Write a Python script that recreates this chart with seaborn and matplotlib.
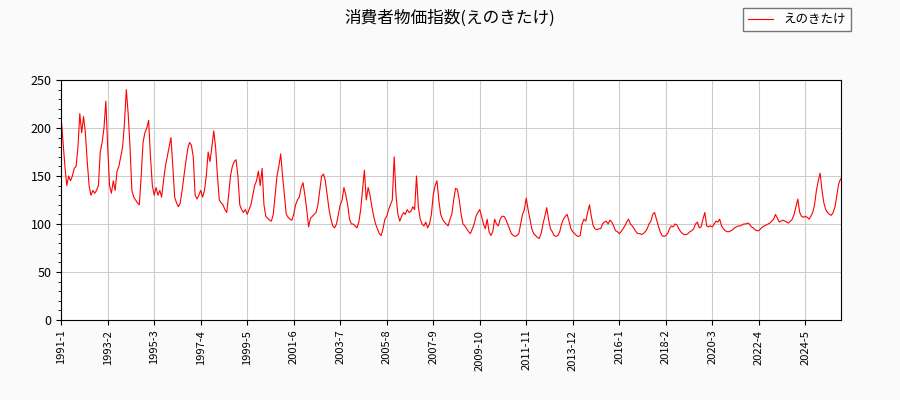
import seaborn as sns
import matplotlib.pyplot as plt
import pandas as pd
import numpy as np

# monthly index values, 1991-1 .. 2025-12
y1991 = [210, 185, 160, 140, 150, 145, 150, 158, 160, 180, 215, 195]
y1992 = [212, 195, 165, 140, 130, 135, 132, 135, 140, 175, 185, 200]
y1993 = [228, 180, 140, 132, 145, 135, 155, 160, 170, 180, 205, 240]
y1994 = [215, 180, 135, 128, 125, 122, 120, 150, 185, 195, 200, 208]
y1995 = [170, 140, 130, 138, 130, 135, 128, 145, 160, 170, 180, 190]
y1996 = [160, 128, 122, 118, 122, 135, 150, 165, 178, 185, 182, 170]
y1997 = [130, 126, 130, 135, 128, 135, 150, 175, 165, 180, 197, 180]
y1998 = [150, 125, 122, 120, 115, 112, 130, 150, 160, 165, 167, 150]
y1999 = [120, 115, 112, 115, 110, 115, 120, 130, 140, 145, 155, 140]
y2000 = [158, 120, 108, 106, 104, 103, 110, 130, 150, 160, 173, 150]
y2001 = [130, 110, 107, 105, 104, 110, 120, 125, 128, 138, 143, 130]
y2002 = [115, 97, 106, 108, 110, 112, 120, 135, 150, 152, 145, 130]
y2003 = [115, 105, 98, 96, 100, 110, 120, 125, 138, 130, 120, 105]
y2004 = [100, 100, 98, 96, 102, 115, 135, 156, 125, 138, 130, 118]
y2005 = [108, 100, 95, 90, 88, 95, 105, 108, 115, 120, 125, 170]
y2006 = [130, 110, 103, 108, 112, 110, 115, 112, 113, 118, 115, 150]
y2007 = [118, 105, 100, 98, 102, 96, 100, 110, 130, 140, 145, 125]
y2008 = [110, 105, 102, 100, 98, 105, 110, 125, 137, 136, 125, 110]
y2009 = [100, 98, 95, 92, 90, 95, 100, 108, 112, 115, 108, 100]
y2010 = [95, 105, 92, 88, 92, 105, 100, 98, 105, 108, 108, 105]
y2011 = [100, 95, 90, 88, 87, 88, 90, 100, 110, 115, 127, 115]
y2012 = [105, 95, 90, 88, 86, 85, 90, 100, 108, 117, 105, 95]
y2013 = [92, 88, 87, 88, 92, 100, 105, 108, 110, 103, 95, 92]
y2014 = [90, 88, 87, 88, 100, 105, 103, 112, 120, 108, 98, 95]
y2015 = [94, 95, 95, 100, 102, 103, 100, 104, 102, 98, 93, 92]
y2016 = [90, 92, 95, 98, 102, 105, 100, 98, 95, 92, 90, 90]
y2017 = [89, 90, 92, 95, 100, 103, 110, 112, 105, 98, 92, 88]
y2018 = [87, 88, 90, 95, 98, 97, 100, 99, 95, 92, 90, 89]
y2019 = [89, 90, 92, 93, 95, 100, 102, 96, 97, 105, 112, 98]
y2020 = [97, 98, 97, 100, 103, 102, 105, 98, 95, 93, 92, 92]
y2021 = [93, 94, 96, 97, 98, 98, 99, 100, 100, 101, 100, 97]
y2022 = [96, 94, 93, 93, 95, 97, 98, 99, 100, 101, 103, 105]
y2023 = [110, 106, 102, 103, 104, 103, 102, 101, 103, 105, 110, 118]
y2024 = [126, 112, 108, 107, 108, 107, 105, 108, 112, 120, 135, 145]
y2025 = [153, 135, 122, 115, 112, 110, 109, 112, 118, 130, 142, 147]

years = list(range(1991, 2026))
values = []
for yr in years:
    values += globals()[f'y{yr}']
labels = [f'{yr}-{m}' for yr in years for m in range(1, 13)]

df = pd.DataFrame({'idx': np.arange(len(values)), 'value': values})

plt.rcParams['font.family'] = ['Noto Sans CJK JP', 'DejaVu Sans']
fig = plt.figure(figsize=(9, 4), dpi=100, facecolor='#fafafa')
ax = fig.add_axes([0.068, 0.2, 0.866, 0.6])
ax.set_facecolor('white')

sns.lineplot(data=df, x='idx', y='value', ax=ax, color='red', linewidth=0.8, label='えのきたけ')

ticks = list(range(0, len(values), 25))
ax.set_xticks(ticks)
ax.set_xticklabels([labels[i] for i in ticks], rotation=90, fontsize=8)
ax.set_xlim(0, len(values) - 1)
ax.set_ylim(0, 250)
ax.set_yticks(range(0, 251, 50))
ax.set_yticks(range(0, 251, 10), minor=True)
ax.tick_params(axis='y', labelsize=9)
ax.grid(True, color='#cccccc', linewidth=0.8)
ax.set_xlabel('')
ax.set_ylabel('')

fig.suptitle('消費者物価指数(えのきたけ)', fontsize=12, y=0.975)
handles, lbls = ax.get_legend_handles_labels()
ax.get_legend().remove()
fig.legend(handles, lbls, loc='upper right', bbox_to_anchor=(0.952, 0.995), fontsize=9,
           frameon=True, fancybox=False, edgecolor='#555555')

fig.savefig('out.png', facecolor=fig.get_facecolor())
